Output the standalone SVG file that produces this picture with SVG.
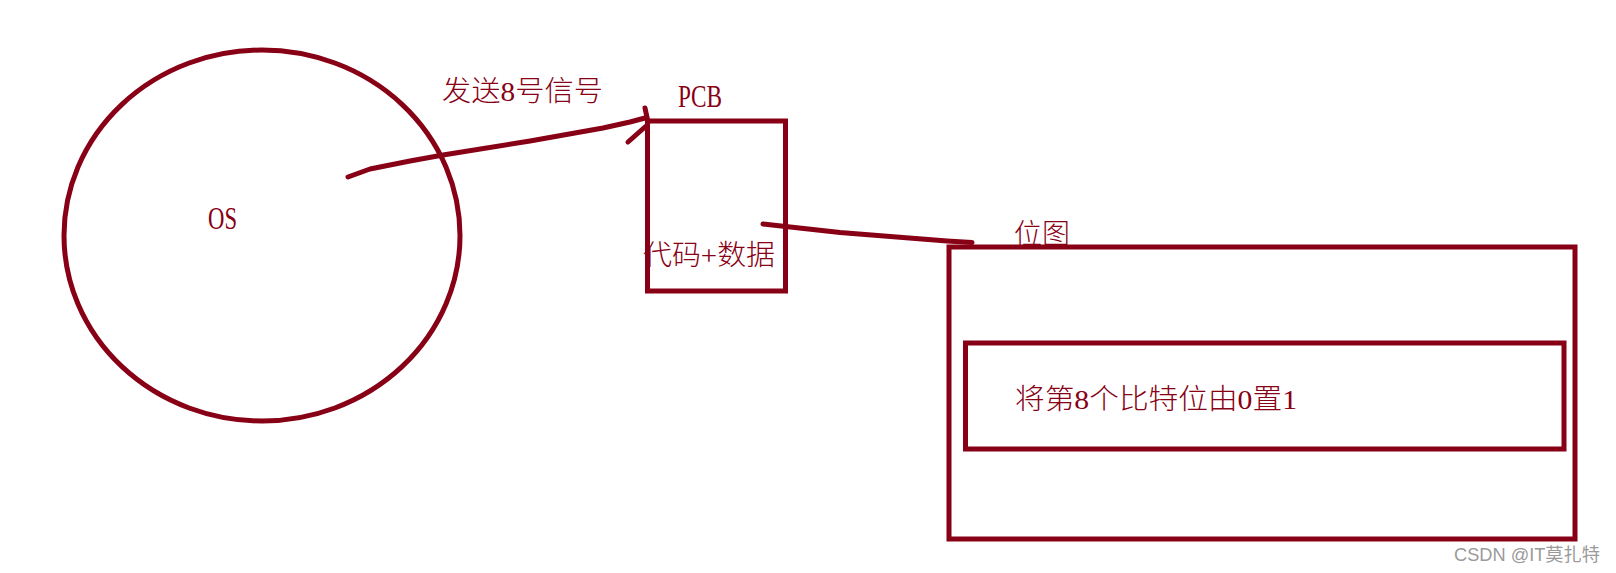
<svg xmlns="http://www.w3.org/2000/svg" width="1616" height="573" viewBox="0 0 1616 573">
<style>
.shape{fill:none;stroke:#880015;stroke-width:5}
.conn{fill:none;stroke:#880015;stroke-width:5;stroke-linecap:round;stroke-linejoin:round}
.t{fill:#880015;font-family:"Liberation Serif","Noto Sans CJK SC",serif;font-size:28px;font-weight:300}
.lat{font-size:32px;font-weight:400}
.wm{fill:#9a9a9a;font-family:"Liberation Sans","Noto Sans CJK SC",sans-serif;font-size:18px}
</style>
<rect width="1616" height="573" fill="#ffffff"/>
<g id="os">
<ellipse class="shape" cx="262" cy="235.5" rx="198" ry="185.5"/>
<text class="t lat" x="208" y="229" textLength="29" lengthAdjust="spacingAndGlyphs">OS</text>
</g>
<g id="signal-label">
<text class="t" x="442" y="101" textLength="161" lengthAdjust="spacingAndGlyphs">发送8号信号</text>
</g>
<g id="pcb">
<text class="t lat" x="678" y="107" textLength="44" lengthAdjust="spacingAndGlyphs">PCB</text>
<text class="t" x="643" y="265" textLength="132" lengthAdjust="spacingAndGlyphs">代码+数据</text>
<rect class="shape" x="647.5" y="121" width="138" height="170"/>
</g>
<g id="bitmap">
<text class="t" x="1014" y="244" textLength="56" lengthAdjust="spacingAndGlyphs">位图</text>
<rect class="shape" x="949" y="247" width="626" height="292"/>
<rect class="shape" x="965.5" y="343" width="598.5" height="106"/>
<text class="t" x="1015" y="409" textLength="282" lengthAdjust="spacingAndGlyphs">将第8个比特位由0置1</text>
</g>
<g id="connectors">
<polyline class="conn" points="348,177 370,169 410,161 443,155 530,141 603,128 630,122 645,118"/>
<path class="conn" d="M645,108 L648,122 M628,142 L645,127"/>
<path class="conn" d="M763,224 L840,232.5 L947,241 L972,242.5"/>
</g>
<text class="wm" x="1454" y="561" textLength="146" lengthAdjust="spacingAndGlyphs">CSDN @IT莫扎特</text>
</svg>
